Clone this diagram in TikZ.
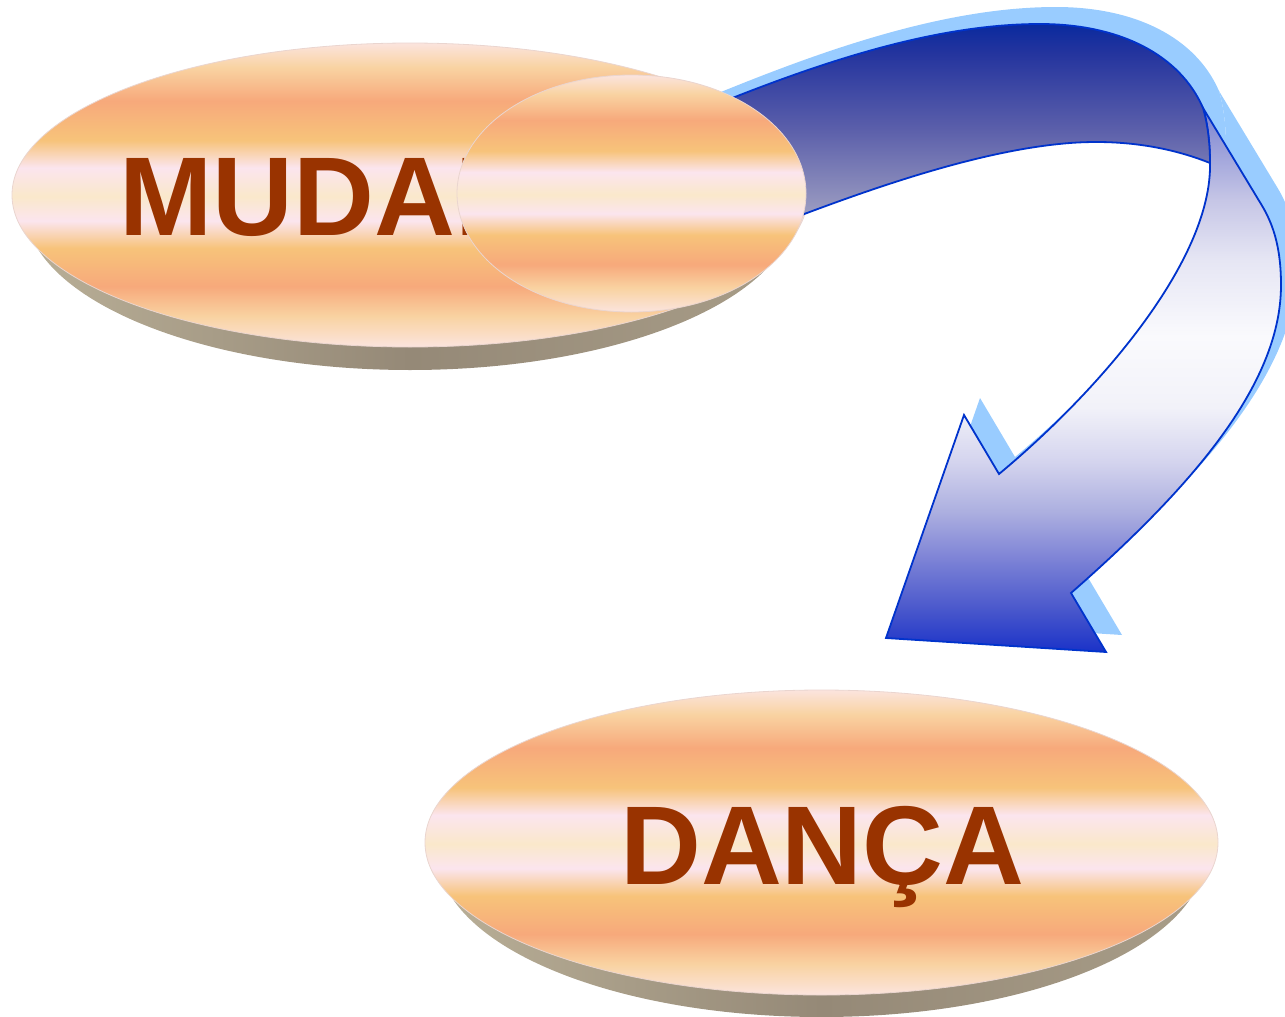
\documentclass[tikz,border=0pt]{standalone}
\usepackage{fontspec}
\setmainfont{Liberation Sans}
\usetikzlibrary{shapes.geometric}
\definecolor{stEdge}{HTML}{FBE4DE}
\definecolor{stPeach}{HTML}{F9D3A2}
\definecolor{stSalmon}{HTML}{F7A97B}
\definecolor{stYellow}{HTML}{F7C37A}
\definecolor{stPink}{HTML}{FBE5EE}
\definecolor{stCream}{HTML}{FAE8CB}
\definecolor{sdLight}{HTML}{B9AF97}
\definecolor{sdDark}{HTML}{958977}
\definecolor{sdRight}{HTML}{A89D88}
\definecolor{discedge}{HTML}{EAD5CF}
\definecolor{textred}{HTML}{993300}
\definecolor{arrowline}{HTML}{0033CC}
\definecolor{shadowblue}{HTML}{99CCFF}
\definecolor{aTop}{HTML}{0A2A9E}
\definecolor{aHigh}{HTML}{24349E}
\definecolor{aMid}{HTML}{5A5EAA}
\definecolor{aBot}{HTML}{A9A9C6}
\definecolor{bA}{HTML}{1A32C8}
\definecolor{bB}{HTML}{4A58CC}
\definecolor{bC}{HTML}{7C82D6}
\definecolor{bD}{HTML}{ADB0E0}
\definecolor{bE}{HTML}{D4D4EE}
\definecolor{bF}{HTML}{F2F2F9}
\definecolor{bG}{HTML}{FAFAFD}
\definecolor{bH}{HTML}{E6E6F4}
\definecolor{bI}{HTML}{C6C6E6}
\definecolor{bJ}{HTML}{7A82D0}
\pgfdeclareverticalshading{stripes}{100bp}{color(0bp)=(stEdge); color(25bp)=(stEdge); color(30bp)=(stPeach); color(35bp)=(stSalmon); color(41.25bp)=(stYellow); color(45.75bp)=(stPink); color(49.75bp)=(stCream); color(54.5bp)=(stPink); color(59bp)=(stYellow); color(65.5bp)=(stSalmon); color(71bp)=(stPeach); color(75bp)=(stEdge); color(100bp)=(stEdge)}
\pgfdeclarehorizontalshading{sideshade}{100bp}{color(0bp)=(sdLight); color(25bp)=(sdLight); color(50bp)=(sdDark); color(75bp)=(sdRight); color(100bp)=(sdRight)}
\pgfdeclareverticalshading{bandAshade}{100bp}{color(0bp)=(aBot); color(25bp)=(aBot); color(50bp)=(aMid); color(68bp)=(aHigh); color(75bp)=(aTop); color(100bp)=(aTop)}
\pgfdeclareverticalshading{bandBshade}{100bp}{color(0bp)=(bA); color(25bp)=(bA); color(29bp)=(bB); color(33.5bp)=(bC); color(38bp)=(bD); color(42.5bp)=(bE); color(47.5bp)=(bF); color(54bp)=(bG); color(61bp)=(bH); color(66.5bp)=(bI); color(75bp)=(bJ); color(100bp)=(bJ)}
\tikzset{
  disc/.style={ellipse, inner sep=0pt, outer sep=0pt, shade, shading=stripes, draw=discedge, line width=0.8pt},
  discside/.style={ellipse, inner sep=0pt, outer sep=0pt, shade, shading=sideshade},
  wordlabel/.style={anchor=base west, inner sep=0pt, text=textred, font=\fontsize{112}{112}\selectfont\bfseries},
  arrowshadow/.style={fill=shadowblue},
  arrowbody/.style={draw=arrowline, line width=1.8pt, line join=miter},
}
\begin{document}
\begin{tikzpicture}[x=1pt,y=-1pt]
\useasboundingbox (0,0) rectangle (1285,1017);
\clip (0,0) rectangle (1285,1017);

% upper disc
\node[discside, minimum width=770pt, minimum height=326pt] (topside) at (410,207) {};
\node[disc, minimum width=796pt, minimum height=304pt] (topdisc) at (410,195) {};
\node[wordlabel] (muda) at (119,235) {MUDANÇA};

% arrow shadow
\begin{scope}[shift={(16,-17)}]
\fill[arrowshadow] (700,111) .. controls (810,66) and (930,24) .. (1040,24) .. controls (1120,24) and (1180,55) .. (1203,108) .. controls (1208,125) and (1210,145) .. (1210,163) .. controls (1160,143) and (1110,140) .. (1070,143) .. controls (980,150) and (870,188) .. (760,231) -- cycle;
\fill[arrowshadow] (1203,108) -- (1261,204) .. controls (1272,222) and (1281,245) .. (1281,285) .. controls (1281,380) and (1200,480) .. (1071,593) -- (1106,652) -- (886,638) -- (964,415) -- (999,474) .. controls (1100,390) and (1212,260) .. (1210,163) .. controls (1210,145) and (1208,125) .. (1203,108) -- cycle;
\end{scope}

% arrow body
\shadedraw[arrowbody, shading=bandBshade] (1203,108) -- (1261,204) .. controls (1272,222) and (1281,245) .. (1281,285) .. controls (1281,380) and (1200,480) .. (1071,593) -- (1106,652) -- (886,638) -- (964,415) -- (999,474) .. controls (1100,390) and (1212,260) .. (1210,163) .. controls (1210,145) and (1208,125) .. (1203,108) -- cycle;
\shadedraw[arrowbody, shading=bandAshade] (700,111) .. controls (810,66) and (930,24) .. (1040,24) .. controls (1120,24) and (1180,55) .. (1203,108) .. controls (1208,125) and (1210,145) .. (1210,163) .. controls (1160,143) and (1110,140) .. (1070,143) .. controls (980,150) and (870,188) .. (760,231) -- cycle;

% small disc over arrow start
\node[disc, minimum width=349pt, minimum height=237pt] (smalldisc) at (631.5,193.5) {};

% lower disc
\node[discside, minimum width=767pt, minimum height=326pt] (bottomside) at (821.5,854) {};
\node[disc, minimum width=793pt, minimum height=305pt] (bottomdisc) at (821.5,842.5) {};
\node[wordlabel] (danca) at (620,884) {DANÇA};
\end{tikzpicture}
\end{document}
